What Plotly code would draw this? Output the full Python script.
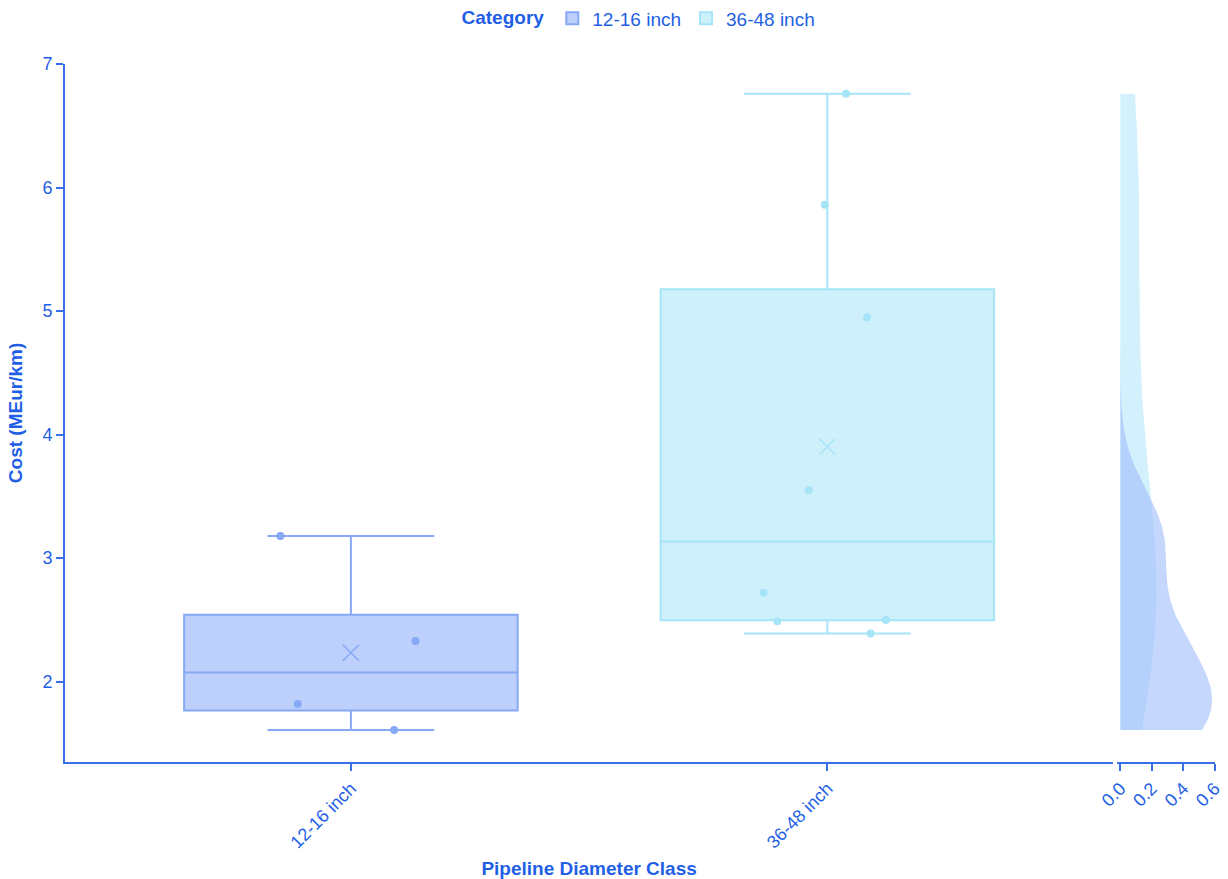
import numpy as np
import plotly.graph_objects as go

# Pipeline cost per km, grouped by diameter class
categories = ["12-16 inch", "36-48 inch"]
cost_12_16 = [3.18, 2.33, 1.82, 1.61]
cost_36_48 = [6.76, 5.86, 4.95, 3.55, 2.72, 2.50, 2.49, 2.39]

line_colors = ["#86a8f7", "#a6e4f8"]
fill_colors = ["rgba(134,168,247,0.55)", "rgba(166,228,248,0.55)"]
kde_fills = ["rgba(160,188,252,0.6)", "rgba(166,228,250,0.5)"]
text_blue = "#1f5fe6"
axis_blue = "#3a6fea"
font_family = "Liberation Sans, Arial, sans-serif"

groups = [cost_12_16, cost_36_48]


def silverman_kde(values, grid):
    v = np.asarray(values, dtype=float)
    n = v.size
    sd = v.std(ddof=1)
    q1, q3 = np.percentile(v, [25, 75])
    bw = 0.9 * min(sd, (q3 - q1) / 1.34) * n ** -0.2
    z = (grid[:, None] - v[None, :]) / bw
    return np.exp(-0.5 * z ** 2).sum(axis=1) / (n * bw * np.sqrt(2 * np.pi))


fig = go.Figure()

for name, vals, lc, fc in zip(categories, groups, line_colors, fill_colors):
    v = np.asarray(vals, dtype=float)
    q1, med, q3 = np.percentile(v, [25, 50, 75])
    # Box with quartiles computed by linear interpolation, whiskers to min/max
    fig.add_trace(go.Box(
        x=[name], q1=[q1], median=[med], q3=[q3],
        lowerfence=[v.min()], upperfence=[v.max()],
        name=name, width=0.7, whiskerwidth=0.5,
        line=dict(color=lc, width=2), fillcolor=fc,
        legendgroup=name, hoverinfo="y",
    ))
    # Individual observations, jittered across the box
    fig.add_trace(go.Box(
        x=[name] * len(vals), y=vals, name=name,
        boxpoints="all", jitter=0.5, pointpos=0, width=0.7,
        line=dict(color="rgba(0,0,0,0)", width=0),
        fillcolor="rgba(0,0,0,0)",
        marker=dict(color=lc, size=8, opacity=1),
        showlegend=False, legendgroup=name, hoveron="points",
    ))
    # Mean marker
    fig.add_trace(go.Scatter(
        x=[name], y=[float(v.mean())], mode="markers",
        marker=dict(symbol="x-thin", size=16, line=dict(color=lc, width=1.5)),
        showlegend=False, legendgroup=name, hoverinfo="y",
    ))

# Marginal density of each class along the cost axis
all_vals = np.concatenate([np.asarray(g, dtype=float) for g in groups])
grid = np.linspace(all_vals.min(), all_vals.max(), 300)
for idx in [1, 0]:
    dens = silverman_kde(groups[idx], grid)
    fig.add_trace(go.Scatter(
        x=dens, y=grid, xaxis="x2", yaxis="y",
        mode="lines", line=dict(width=0, color=kde_fills[idx]),
        fill="tozerox", fillcolor=kde_fills[idx],
        showlegend=False, legendgroup=categories[idx], hoverinfo="skip",
    ))

axis_common = dict(
    showline=True, linecolor=axis_blue, linewidth=2,
    ticks="outside", tickcolor=axis_blue, ticklen=7, tickwidth=1.5,
    showgrid=False, zeroline=False, automargin=False,
    tickfont=dict(color=text_blue, size=18, family=font_family),
)

fig.update_layout(
    width=1228, height=879,
    margin=dict(l=65, r=13, t=64, b=117),
    paper_bgcolor="white", plot_bgcolor="white",
    font=dict(family=font_family, color=text_blue),
    boxmode="overlay",
    legend=dict(
        orientation="h", x=0.5, xanchor="center",
        yref="container", y=0.979, yanchor="middle",
        title=dict(text="<b>Category</b>", font=dict(size=19, color=text_blue)),
        font=dict(size=19, color=text_blue),
    ),
    xaxis=dict(
        domain=[0, 0.9115], range=[-0.6, 1.6], type="category",
        categoryorder="array", categoryarray=categories,
        tickangle=-45,
        title=dict(text="<b>Pipeline Diameter Class</b>",
                   font=dict(size=19, color=text_blue)),
        **axis_common,
    ),
    yaxis=dict(
        range=[1.35, 7.0], dtick=1,
        title=dict(text="<b>Cost (MEur/km)</b>",
                   font=dict(size=19, color=text_blue)),
        **axis_common,
    ),
    xaxis2=dict(
        domain=[0.915, 1.0], range=[-0.02, 0.602],
        tickvals=[0, 0.2, 0.4, 0.6], tickformat=".1f", tickangle=-45,
        ticklabeloverflow="allow",
        anchor="y",
        **axis_common,
    ),
)

fig.write_html("out.html")
